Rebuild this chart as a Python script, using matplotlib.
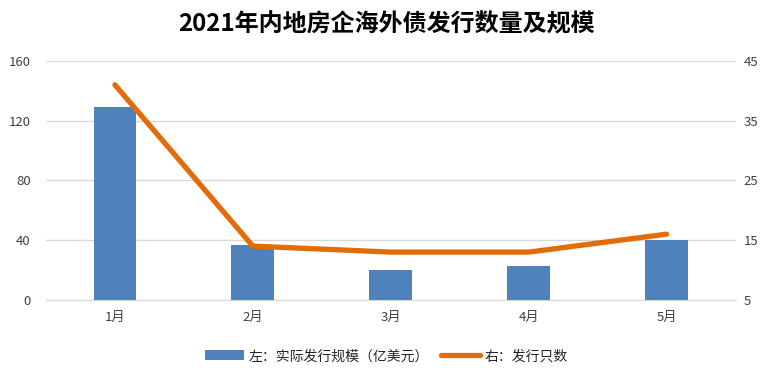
import numpy as np
import matplotlib
matplotlib.use('Agg')
import matplotlib.pyplot as plt

plt.rcParams['font.family'] = ['Noto Sans CJK SC', 'DejaVu Sans']

months = ['1月', '2月', '3月', '4月', '5月']
scale = [129, 37, 20, 23, 40]      # 左：实际发行规模（亿美元）
count = [41, 14, 13, 13, 16]       # 右：发行只数

fig = plt.figure(figsize=(7.73, 3.83), dpi=100)
ax = fig.add_axes([0.0595, 0.217, 0.892, 0.624])
ax2 = ax.twinx()

x = np.arange(len(months))
b = ax.bar(x, scale, width=0.31, color='#4F81BD', label='左：实际发行规模（亿美元）', zorder=2)
l, = ax2.plot(x, count, color='#E36C09', lw=3.8, solid_capstyle='round',
              label='右：发行只数', zorder=3)

ax.set_xlim(-0.5, 4.5)
ax.set_ylim(0, 160)
ax.set_yticks([0, 40, 80, 120, 160])
ax2.set_ylim(5, 45)
ax2.set_yticks([5, 15, 25, 35, 45])
ax.set_xticks(x)
ax.set_xticklabels(months)

ax.grid(axis='y', color='#D9D9D9', lw=1, zorder=0)
ax.set_axisbelow(True)
for a in (ax, ax2):
    for s in a.spines.values():
        s.set_visible(False)
    a.tick_params(length=0, labelsize=9.5, colors='#404040')
ax.spines['bottom'].set_visible(True)
ax.spines['bottom'].set_color('#D9D9D9')
ax.tick_params(axis='y', pad=11)
ax2.tick_params(axis='y', pad=6)
ax.tick_params(axis='x', pad=8)

fig.text(0.5, 0.935, '2021年内地房企海外债发行数量及规模', ha='center', va='center',
         fontsize=17.3, fontweight='bold')

fig.legend([b, l], [b.get_label(), l.get_label()], loc='center', bbox_to_anchor=(0.5, 0.07),
           ncol=2, frameon=False, fontsize=10, handlelength=2.8, columnspacing=0.8,
           handletextpad=0.4, labelcolor='#262626')

fig.savefig('out.png', dpi=100)
